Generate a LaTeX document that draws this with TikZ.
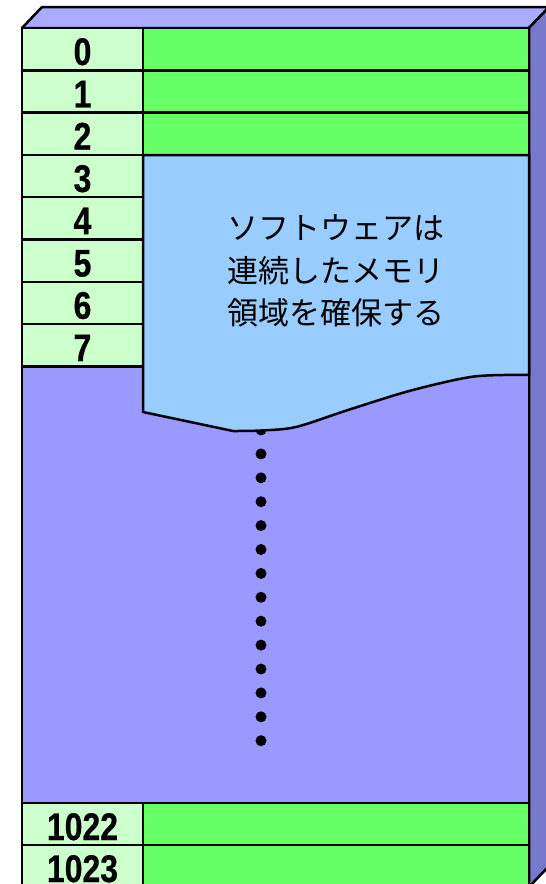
\documentclass[tikz,border=0pt]{standalone}
\usepackage{fontspec}
\newfontfamily\numfont{Liberation Sans}[FakeStretch=0.83,FakeBold=0.6]
\newfontfamily\jpfont{Noto Sans CJK JP}
\definecolor{topc}{HTML}{AAAAFF}
\definecolor{sidec}{HTML}{7777CC}
\definecolor{frontc}{HTML}{9999FF}
\definecolor{cellg}{HTML}{66FF66}
\definecolor{labelg}{HTML}{CCFFCC}
\definecolor{bluec}{HTML}{99CCFF}
\begin{document}
\begin{tikzpicture}[x=1pt,y=-1pt,line join=round,
  outl/.style={draw=black,line width=2.5pt},
  num/.style={font=\numfont\bfseries\fontsize{38.5}{40}\selectfont,anchor=base,inner sep=0pt},
  jptext/.style={font=\jpfont\fontsize{31}{42.5}\selectfont,align=center,inner sep=0pt}]
\useasboundingbox (0,0) rectangle (546,884);
\begin{scope}
\clip (0,0) rectangle (546,884);
% top and side faces
\path[fill=topc,outl] (22,28) -- (42,7) -- (549,7) -- (529,28) -- cycle;
\path[fill=sidec,outl] (529,28) -- (549,7) -- (549,866) -- (529,887) -- cycle;
% middle purple area
\path[fill=frontc,outl] (22,366.4) rectangle (529,803);
% rows 0..7
\foreach \i in {0,...,7} {
  \pgfmathsetmacro\yt{28+42.3*\i}
  \path[fill=labelg,outl] (22,\yt) rectangle (143,{\yt+42.3});
  \node[num] (n\i) at (82.5,{\yt+37}) {\i};
}
\foreach \i in {0,1,2} {
  \pgfmathsetmacro\yt{28+42.3*\i}
  \path[fill=cellg,outl] (143,\yt) rectangle (529,{\yt+42.3});
}
% bottom rows
\path[fill=labelg,outl] (22,803) rectangle (143,845);
\path[fill=cellg,outl] (143,803) rectangle (529,845);
\path[fill=labelg,outl] (22,845) rectangle (143,887);
\path[fill=cellg,outl] (143,845) rectangle (529,887);
\node[num] (n1022) at (82.5,840) {1022};
\node[num] (n1023) at (82.5,882) {1023};
% dots
\foreach \k in {0,...,13} {
  \fill (261,{430+23.9*\k}) circle (5.5);
}
% allocated region
\path[fill=bluec,outl] (143,155) -- (529,155) -- (529,375)
  -- plot[smooth] coordinates {(529,375) (474,376.5) (411,390.5) (348,410) (296,427) (261,430.5) (233,431)}
  -- (143,412) -- cycle;
\node[jptext] (txt) at (336,271) {ソフトウェアは\\連続したメモリ\\領域を確保する};
% outer frame
\draw[line width=2.5pt] (22,28) rectangle (529,887);
\end{scope}
\end{tikzpicture}
\end{document}
